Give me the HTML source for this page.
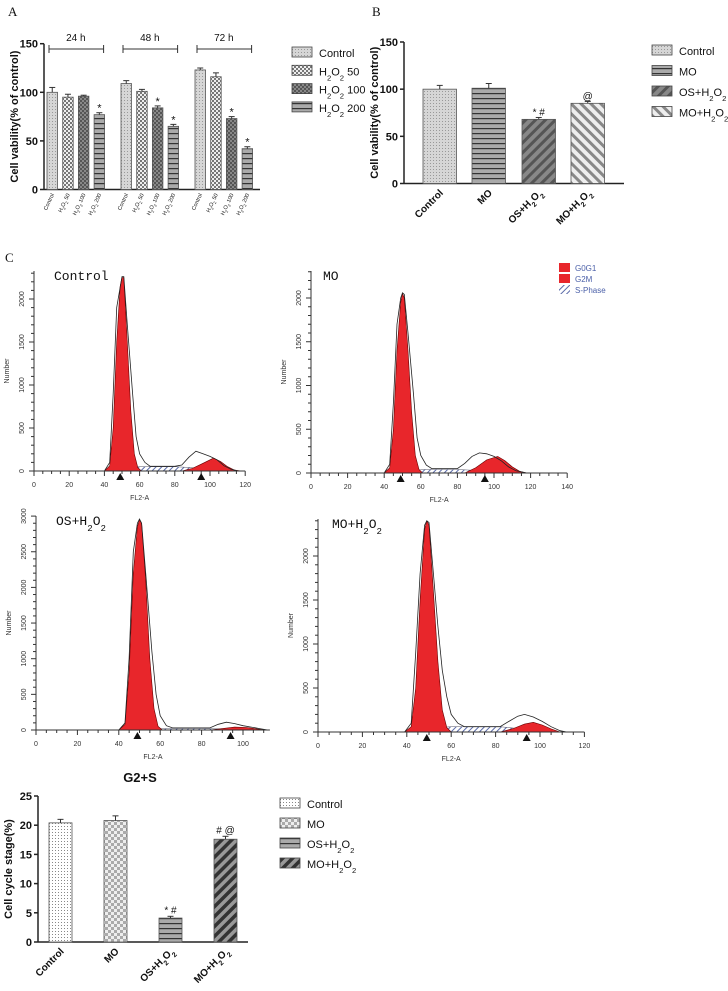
<!DOCTYPE html>
<html><head><meta charset="utf-8"><style>
html,body{margin:0;padding:0;background:#fff;}
svg{display:block;font-family:"Liberation Sans",sans-serif;}
</style></head><body>
<svg id="fig" width="728" height="991" viewBox="0 0 728 991" xmlns="http://www.w3.org/2000/svg">
<defs>
<pattern id="pDot" width="3" height="3" patternUnits="userSpaceOnUse"><rect width="3" height="3" fill="#d6d6d6"/><rect x="1" y="1" width="1" height="1" fill="#999"/></pattern>
<pattern id="pDotW" width="3" height="3" patternUnits="userSpaceOnUse"><rect width="3" height="3" fill="#fff"/><rect x="1" y="1" width="1" height="1" fill="#888"/></pattern>
<pattern id="pChk" width="4" height="4" patternUnits="userSpaceOnUse"><rect width="4" height="4" fill="#eee"/><rect width="2" height="2" fill="#777"/><rect x="2" y="2" width="2" height="2" fill="#777"/></pattern>
<pattern id="pChkL" width="6" height="6" patternUnits="userSpaceOnUse"><rect width="6" height="6" fill="#eee"/><rect width="3" height="3" fill="#aaa"/><rect x="3" y="3" width="3" height="3" fill="#aaa"/></pattern>
<pattern id="pChkD" width="4" height="4" patternUnits="userSpaceOnUse"><rect width="4" height="4" fill="#888"/><rect width="2" height="2" fill="#555"/><rect x="2" y="2" width="2" height="2" fill="#555"/></pattern>
<pattern id="pHor" width="4" height="5" patternUnits="userSpaceOnUse"><rect width="4" height="5" fill="#aaa"/><rect y="3" width="4" height="1.2" fill="#333"/></pattern>
<pattern id="pDiagD" width="7" height="7" patternUnits="userSpaceOnUse" patternTransform="rotate(45)"><rect width="7" height="7" fill="#888"/><rect width="3" height="7" fill="#555"/></pattern>
<pattern id="pDiagL" width="7" height="7" patternUnits="userSpaceOnUse" patternTransform="rotate(-45)"><rect width="7" height="7" fill="#eee"/><rect width="3" height="7" fill="#888"/></pattern>
<pattern id="pDiagB" width="7" height="7" patternUnits="userSpaceOnUse" patternTransform="rotate(45)"><rect width="7" height="7" fill="#999"/><rect width="3.5" height="7" fill="#333"/></pattern>
<pattern id="pHatch" width="4" height="4" patternUnits="userSpaceOnUse" patternTransform="rotate(45)"><rect width="4" height="4" fill="#fff"/><rect width="1" height="4" fill="#5a6aa8"/></pattern>
</defs>
</svg>
<script>
// ---------- Data ----------
const aGroups = ["24 h","48 h","72 h"];
const aSeries = ["Control","H₂O₂ 50","H₂O₂ 100","H₂O₂ 200"];
const aValues = [[100,95,96,77],[109,101,84,65],[123,116,73,42]];
const aErrors = [[5,3,1,2],[3,2,2,2],[2,4,2,2]];
const aSig = [["","","","*"],["","","*","*"],["","","*","*"]];
const aYTicks = [0,50,100,150];

const bCats = ["Control","MO","OS+H₂O₂","MO+H₂O₂"];
const bValues = [100,101,68,85];
const bErrors = [4,5,2,2];
const bSig = ["","","* #","@"];
const bYTicks = [0,50,100,150];

const cCats = ["Control","MO","OS+H₂O₂","MO+H₂O₂"];
const cValues = [20.4,20.8,4.1,17.6];
const cErrors = [0.6,0.8,0.3,0.5];
const cSig = ["","","* #","# @"];
const cYTicks = [0,5,10,15,20,25];

// histogram curves: [FL2-A, count]
const hCtrlG1 = [[40,0],[43,60],[45,500],[47,1500],[49,2150],[50,2250],[51,2250],[53,1500],[55,700],[57,200],[59,40],[61,0]];
const hCtrlG2 = [[84,0],[90,30],[96,90],[102,150],[106,110],[110,50],[114,10],[118,0]];
const hCtrlS = [[50,0],[55,40],[60,50],[80,50],[90,40],[96,20],[100,0]];
const hCtrlTot = [[40,0],[43,100],[45,900],[47,1900],[50,2260],[51,2260],[53,1700],[56,900],[58,400],[60,200],[63,100],[66,55],[80,55],[84,70],[88,160],[92,230],[96,200],[100,170],[104,130],[108,60],[112,20],[116,0]];
const hMoG1 = [[40,0],[43,60],[45,500],[47,1400],[49,1950],[50,2050],[51,2000],[53,1400],[55,700],[57,200],[59,40],[61,0]];
const hMoG2 = [[84,0],[90,60],[96,150],[102,190],[106,140],[110,70],[114,20],[118,0]];
const hMoS = [[52,0],[56,30],[62,40],[80,40],[90,30],[96,15],[100,0]];
const hMoTot = [[40,0],[43,100],[45,800],[47,1700],[49,2000],[50,2060],[51,2040],[53,1600],[56,900],[58,400],[60,200],[63,90],[66,50],[80,50],[84,110],[88,190],[92,230],[96,220],[100,190],[104,140],[108,70],[112,25],[118,0]];
const hOsG1 = [[40,0],[43,80],[45,800],[47,2200],[49,2850],[50,2950],[51,2900],[53,2100],[55,1000],[57,300],[59,50],[61,0]];
const hOsG2 = [[84,0],[90,20],[96,40],[102,35],[108,10],[112,0]];
const hOsS = [[52,0],[58,20],[80,20],[90,15],[96,0]];
const hOsTot = [[40,0],[43,100],[45,1000],[47,2500],[49,2900],[50,2960],[51,2900],[53,2200],[56,1100],[58,500],[60,200],[63,60],[66,30],[84,30],[88,80],[92,110],[96,90],[100,60],[104,40],[108,20],[112,0]];
const hMohG1 = [[39,0],[42,60],[44,500],[46,1500],[48,2300],[49,2400],[50,2350],[52,1600],[54,800],[56,250],[58,50],[60,0]];
const hMohG2 = [[82,0],[88,40],[93,90],[97,110],[101,80],[105,35],[109,0]];
const hMohS = [[48,0],[54,50],[60,60],[82,60],[90,40],[96,10],[100,0]];
const hMohTot = [[39,0],[42,100],[44,900],[46,1800],[48,2350],[49,2400],[50,2380],[52,1800],[54,1200],[56,700],[58,400],[60,200],[63,100],[66,60],[82,60],[86,120],[90,180],[93,200],[97,170],[101,120],[105,60],[109,15],[112,0]];

// ---------- Helpers ----------
const NS="http://www.w3.org/2000/svg";
const svg=document.getElementById('fig');
function mk(tag,attrs,parent,text){const e=document.createElementNS(NS,tag);for(const k in attrs)e.setAttribute(k,attrs[k]);if(text!==undefined)e.textContent=text;(parent||svg).appendChild(e);return e;}
function grp(name){const g=mk('g',{});return g;}
function txt(parent,x,y,s,opts,name){const t=mk('text',Object.assign({x:x,y:y,'font-size':10,fill:'#111'},opts||{}),parent);
  const parts=s.split(/(₂)/);parts.forEach(p=>{if(p==='₂'){mk('tspan',{'baseline-shift':'sub','font-size':'0.7em'},t,'2');}else if(p){mk('tspan',{},t,p);}});
  return t;}

function yAxis(g,x,y0,yTop,ticks,scale,label,fs){
  const l=mk('line',{x1:x,y1:y0,x2:x,y2:yTop,stroke:'#222','stroke-width':1.5},g);
  
  ticks.forEach(v=>{const y=scale(v);mk('line',{x1:x-4,y1:y,x2:x,y2:y,stroke:'#222','stroke-width':1.5},g);
    txt(g,x-6,y+4,String(v),{'text-anchor':'end','font-weight':'bold','font-size':fs||11},'y-tick-label');});
  const cy=(y0+yTop)/2;
  txt(g,0,0,label,{'text-anchor':'middle','font-weight':'bold','font-size':11,transform:`translate(${x-26},${cy}) rotate(-90)`},'y-axis-title');
}
function errBar(g,x,yv,ye){mk('line',{x1:x,y1:yv,x2:x,y2:ye,stroke:'#333'},g);mk('line',{x1:x-3,y1:ye,x2:x+3,y2:ye,stroke:'#333'},g);}
function legend(g,x,y,dy,items,fills,fs){items.forEach((s,i)=>{
  const r=mk('rect',{x:x,y:y+i*dy-7,width:20,height:10,fill:fills[i],stroke:'#444','stroke-width':0.8},g);
  
  txt(g,x+27,y+i*dy+3,s,{'font-size':fs||11},'legend-entry');});}

// ---------- Panel A ----------
(function(){
  const g=grp('panel-a');
  txt(g,8,16,'A',{'font-family':'Liberation Serif,serif','font-size':13},'panel-label-a');
  const y0=189.5,yTop=43.7,x0=44;
  const sc=v=>y0-(v/150)*(y0-yTop);
  yAxis(g,x0,y0,yTop,aYTicks,sc,'Cell vability(% of control)',11);
  const xa=mk('line',{x1:x0,y1:y0,x2:260,y2:y0,stroke:'#222','stroke-width':1.5},g);
  
  const fills=['url(#pDot)','url(#pChk)','url(#pChkD)','url(#pHor)'];
  const groupStart=[47,121,195],bw=10.5,step=15.7;
  aGroups.forEach((gn,gi)=>{
    const gs=groupStart[gi];
    const bl=mk('line',{x1:gs+2,y1:49,x2:gs+3*step+bw-1,y2:49,stroke:'#333'},g);
    
    mk('line',{x1:gs+2,y1:45,x2:gs+2,y2:53,stroke:'#333'},g);mk('line',{x1:gs+3*step+bw-1,y1:45,x2:gs+3*step+bw-1,y2:53,stroke:'#333'},g);
    txt(g,gs+(3*step+bw)/2,41,gn,{'text-anchor':'middle','font-size':10},'time-label');
    aValues[gi].forEach((v,si)=>{
      const x=gs+si*step,y=sc(v);
      const r=mk('rect',{x:x,y:y,width:bw,height:y0-y,fill:fills[si],stroke:'#555','stroke-width':0.8},g);
      
      errBar(g,x+bw/2,y,sc(v+aErrors[gi][si]));
      if(aSig[gi][si])txt(g,x+bw/2,sc(v+aErrors[gi][si])-1,aSig[gi][si],{'text-anchor':'middle','font-size':11},'significance-mark');
      txt(g,0,0,aSeries[si],{'font-size':5.5,'text-anchor':'end',transform:`translate(${x+bw/2+2},${y0+5}) rotate(-65)`},'x-tick-label');
    });
  });
  legend(g,292,54,18.3,aSeries,fills,11);
})();

// ---------- Panel B ----------
(function(){
  const g=grp('panel-b');
  txt(g,372,16,'B',{'font-family':'Liberation Serif,serif','font-size':13},'panel-label-b');
  const y0=183.5,yTop=42,x0=404;
  const sc=v=>y0-(v/150)*(y0-yTop);
  yAxis(g,x0,y0,yTop,bYTicks,sc,'Cell vability(% of control)',11);
  const xa=mk('line',{x1:x0,y1:y0,x2:624,y2:y0,stroke:'#222','stroke-width':1.5},g);
  
  const fills=['url(#pDot)','url(#pHor)','url(#pDiagD)','url(#pDiagL)'];
  const xs=[423,472,522,571],bw=33.5;
  bCats.forEach((c,i)=>{const y=sc(bValues[i]);
    const r=mk('rect',{x:xs[i],y:y,width:bw,height:y0-y,fill:fills[i],stroke:'#555','stroke-width':0.8},g);
    
    errBar(g,xs[i]+bw/2,y,sc(bValues[i]+bErrors[i]));
    if(bSig[i])txt(g,xs[i]+bw/2,sc(bValues[i]+bErrors[i])-2,bSig[i],{'text-anchor':'middle','font-size':10},'significance-mark');
    txt(g,0,0,c,{'font-size':10,'font-weight':'bold','text-anchor':'end',transform:`translate(${xs[i]+bw/2+4},${y0+10}) rotate(-45)`},'x-tick-label');
  });
  legend(g,652,52,20.5,bCats,fills,11);
})();

txt(svg,5,262,'C',{'font-family':'Liberation Serif,serif','font-size':13},'panel-label-c');

// ---------- Histograms ----------
function hist(name,title,o,G1,G2,S,Tot){
  const g=grp(name);
  const X=v=>o.ox+v*o.sx,Y=v=>o.oy-v*o.sy;
  const poly=(pts)=>pts.map(p=>X(p[0]).toFixed(1)+','+Y(p[1]).toFixed(1)).join(' ');
  const s=mk('polygon',{points:poly(S),fill:'url(#pHatch)',stroke:'#556','stroke-width':0.5},g);
  
  const a=mk('polygon',{points:poly(G1),fill:'#e8262b',stroke:'#600','stroke-width':0.6},g);
  
  const b=mk('polygon',{points:poly(G2),fill:'#e8262b',stroke:'#600','stroke-width':0.6},g);
  
  const t=mk('polyline',{points:poly(Tot),fill:'none',stroke:'#222','stroke-width':0.8},g);
  
  mk('line',{x1:o.ox,y1:o.oy,x2:X(o.xmax),y2:o.oy,stroke:'#333','stroke-width':1},g);
  mk('line',{x1:o.ox,y1:o.oy,x2:o.ox,y2:o.top,stroke:'#333','stroke-width':1},g);
  for(let v=0;v<=o.xmax;v+=5){mk('line',{x1:X(v),y1:o.oy,x2:X(v),y2:o.oy+(v%20==0?5:3),stroke:'#333'},g);
    if(v%20==0)txt(g,X(v),o.oy+16,String(v),{'text-anchor':'middle','font-size':7,fill:'#333'},'x-tick-label');}
  for(let v=0;Y(v)>=o.top;v+=100){mk('line',{x1:o.ox-(v%500==0?5:3),y1:Y(v),x2:o.ox,y2:Y(v),stroke:'#333'},g);
    if(v%500==0)txt(g,0,0,String(v),{'text-anchor':'middle','font-size':7,fill:'#333',transform:`translate(${o.ox-10},${Y(v)}) rotate(-90)`},'y-tick-label');}
  txt(g,X(o.xmax/2),o.oy+29,'FL2-A',{'text-anchor':'middle','font-size':7,fill:'#333'},'x-axis-title');
  txt(g,0,0,'Number',{'text-anchor':'middle','font-size':7,fill:'#333',transform:`translate(${o.ox-25},${(o.oy+o.top)/2}) rotate(-90)`},'y-axis-title');
  [o.m1,o.m2].forEach(m=>{const tr=mk('polygon',{points:`${X(m)-4},${o.oy+9} ${X(m)+4},${o.oy+9} ${X(m)},${o.oy+2}`,fill:'#111'},g);
    });
  txt(g,o.ox+o.tx,o.top+9,title,{'font-family':'Liberation Mono,monospace','font-size':13},'histogram-title');
  return g;
}
hist('histogram-control','Control',{ox:34,oy:471,sx:1.76,sy:0.086,xmax:120,top:271,m1:49,m2:95,tx:20},hCtrlG1,hCtrlG2,hCtrlS,hCtrlTot);
hist('histogram-mo','MO',{ox:311,oy:473,sx:1.83,sy:0.0875,xmax:140,top:271,m1:49,m2:95,tx:12},hMoG1,hMoG2,hMoS,hMoTot);
hist('histogram-os-h2o2','OS+H₂O₂',{ox:36,oy:730,sx:2.07,sy:0.0713,xmax:113,top:516,m1:49,m2:94,tx:20},hOsG1,hOsG2,hOsS,hOsTot);
hist('histogram-mo-h2o2','MO+H₂O₂',{ox:318,oy:732,sx:2.22,sy:0.088,xmax:120,top:519,m1:49,m2:94,tx:14},hMohG1,hMohG2,hMohS,hMohTot);

// histogram legend
(function(){const g=grp('histogram-legend');
  const n=['G0G1','G2M','S-Phase'],f=['#e8262b','#e8262b','url(#pHatch)'];
  n.forEach((s,i)=>{const r=mk('rect',{x:559,y:263+i*11,width:11,height:9,fill:f[i]},g);
    
    txt(g,575,271+i*11,s,{'font-size':8,fill:'#4a5fa8'},'legend-entry');});})();

// ---------- Panel G2+S ----------
(function(){
  const g=grp('panel-g2s');
  txt(g,140,782,'G2+S',{'font-weight':'bold','font-size':13,'text-anchor':'middle'},'chart-title');
  const y0=942,yTop=796,x0=38;
  const sc=v=>y0-(v/25)*(y0-yTop);
  yAxis(g,x0,y0,yTop,cYTicks,sc,'Cell cycle stage(%)',11);
  const xa=mk('line',{x1:x0,y1:y0,x2:248,y2:y0,stroke:'#222','stroke-width':1.5},g);
  
  const fills=['url(#pDotW)','url(#pChkL)','url(#pHor)','url(#pDiagB)'];
  const xs=[49,104,159,214],bw=23;
  cCats.forEach((c,i)=>{const y=sc(cValues[i]);
    const r=mk('rect',{x:xs[i],y:y,width:bw,height:y0-y,fill:fills[i],stroke:'#555','stroke-width':0.8},g);
    
    errBar(g,xs[i]+bw/2,y,sc(cValues[i]+cErrors[i]));
    if(cSig[i])txt(g,xs[i]+bw/2,sc(cValues[i]+cErrors[i])-3,cSig[i],{'text-anchor':'middle','font-size':10},'significance-mark');
    txt(g,0,0,c,{'font-size':10,'font-weight':'bold','text-anchor':'end',transform:`translate(${xs[i]+bw/2+4},${y0+10}) rotate(-45)`},'x-tick-label');
  });
  legend(g,280,805,20,cCats,fills,11);
})();
</script>
</body></html>
